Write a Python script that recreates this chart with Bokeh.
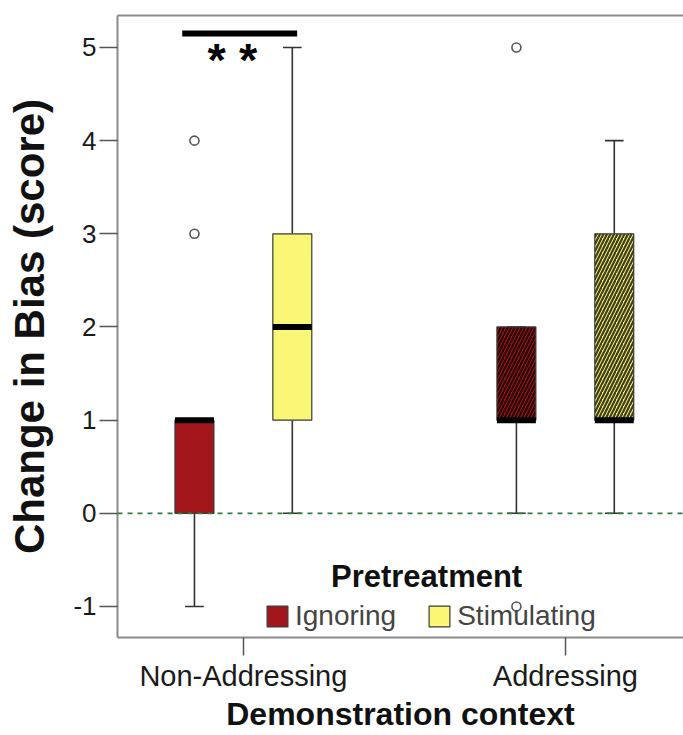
from bokeh.plotting import figure
from bokeh.models import (ColumnDataSource, Range1d, FixedTicker, LinearAxis, Span,
                          Legend, LegendItem, Label)
from bokeh.transform import dodge, factor_hatch
from bokeh.core.properties import value
from bokeh.embed import file_html
from bokeh.resources import INLINE

# ---------------- data ----------------
contexts = ["Non-Addressing", "Addressing"]
groups = ["Ignoring", "Stimulating"]

ign_low = [-1, 0]
ign_q1 = [0, 1]
ign_med = [1, 1]
ign_q3 = [1, 2]
ign_high = [1, 2]

stim_low = [0, 0]
stim_q1 = [1, 1]
stim_med = [2, 1]
stim_q3 = [3, 3]
stim_high = [5, 4]

ign_out_ctx = ["Non-Addressing", "Non-Addressing", "Addressing", "Addressing"]
ign_out_val = [4, 3, 5, -1]

y_ticks = [-1, 0, 1, 2, 3, 4, 5]
sig_label = "**"

# ---------------- styles ----------------
FONT = "Liberation Sans"
RED = "#A3161B"
YEL = "#FAF776"
OFF = 0.152
BOXW = 0.121
CAPW = 0.058

p = figure(width=683, height=735,
           x_range=Range1d(-0.391, 1.367), y_range=Range1d(-1.333, 5.343),
           output_backend="svg", toolbar_location=None,
           min_border_left=117, min_border_top=15, min_border_right=0, min_border_bottom=98,
           background_fill_color="white", border_fill_color="white")
p.outline_line_color = None
p.xgrid.visible = False
p.ygrid.visible = False

idx = list(range(len(contexts)))
src = ColumnDataSource(dict(
    x=idx, ctx=contexts,
    ign_low=ign_low, ign_q1=ign_q1, ign_med=ign_med, ign_q3=ign_q3, ign_high=ign_high,
    stim_low=stim_low, stim_q1=stim_q1, stim_med=stim_med, stim_q3=stim_q3, stim_high=stim_high,
))
out_src = ColumnDataSource(dict(x=[contexts.index(c) for c in ign_out_ctx], y=ign_out_val))

hatch = factor_hatch("ctx", [" ", "/"], contexts)
renderers = {}
for g, off, col in (("ign", -OFF, RED), ("stim", OFF, YEL)):
    xd = dodge("x", off, range=p.x_range)
    # whiskers
    p.segment(x0=xd, y0=f"{g}_q3", x1=xd, y1=f"{g}_high", source=src,
              line_color="#333333", line_width=1.6)
    p.segment(x0=xd, y0=f"{g}_low", x1=xd, y1=f"{g}_q1", source=src,
              line_color="#333333", line_width=1.6)
    # caps
    p.rect(x=xd, y=f"{g}_high", width=CAPW, height=1.6, height_units="screen", source=src,
           fill_color="#333333", line_color=None)
    p.rect(x=xd, y=f"{g}_low", width=CAPW, height=1.6, height_units="screen", source=src,
           fill_color="#333333", line_color=None)
    # box
    r = p.vbar(x=xd, width=BOXW, bottom=f"{g}_q1", top=f"{g}_q3", source=src,
               fill_color=col, line_color="#3a3a3a", line_width=1.2,
               hatch_pattern=hatch, hatch_color="black", hatch_alpha=0.75,
               hatch_scale=7, hatch_weight=2.2)
    renderers[g] = r
    # median
    p.rect(x=xd, y=f"{g}_med", width=BOXW, height=6, height_units="screen", source=src,
           fill_color="black", line_color=None)

p.scatter(x=dodge("x", -OFF, range=p.x_range), y="y", source=out_src, marker="circle",
          size=9, fill_color="white", line_color="#555555", line_width=1.6)

# zero reference line
p.add_layout(Span(location=0, dimension="width", line_color="#2F7D3B",
                  line_dash="5 5", line_width=1.8))

# significance bar
p.segment(x0=[-0.19], y0=[5.15], x1=[0.167], y1=[5.15], line_color="black", line_width=6)
p.text(x=[-0.034], y=[4.87], text=[" ".join(sig_label)], text_font=value(FONT),
       text_font_style="bold", text_font_size="47px", text_align="center",
       text_baseline="alphabetic", text_color="black")

# axes
p.xaxis.ticker = FixedTicker(ticks=idx)
p.xaxis.major_label_overrides = {i: c for i, c in enumerate(contexts)}
p.yaxis.ticker = FixedTicker(ticks=y_ticks)
p.yaxis.major_label_overrides = {t: str(t) for t in y_ticks}
for ax in (p.xaxis[0], p.yaxis[0]):
    ax.axis_line_color = "#8a8a8a"
    ax.axis_line_width = 2
    ax.major_tick_line_color = "#555555"
    ax.major_tick_line_width = 1.5
    ax.major_tick_in = 0
    ax.minor_tick_line_color = None
    ax.major_label_text_font = FONT
    ax.major_label_text_color = "#1a1a1a"
    ax.axis_label_text_font = FONT
    ax.axis_label_text_font_style = "bold"
    ax.axis_label_text_color = "#111111"

p.yaxis.major_tick_out = 18
p.yaxis.major_label_standoff = 3
p.yaxis.major_label_text_font_size = "26px"
p.yaxis.axis_label = "Change in Bias (score)"
p.yaxis.axis_label_text_font_size = "42px"
p.yaxis.axis_label_standoff = 17

p.xaxis.major_tick_out = 18
p.xaxis.major_label_standoff = 4
p.xaxis.major_label_text_font_size = "29px"
p.xaxis.axis_label = "Demonstration context"
p.xaxis.axis_label_text_font_size = "32px"
p.xaxis.axis_label_standoff = 1

top_ax = LinearAxis(ticker=FixedTicker(ticks=[]), axis_line_color="#8a8a8a", axis_line_width=2,
                    major_tick_line_color=None, minor_tick_line_color=None,
                    major_label_text_font_size="0px")
p.add_layout(top_ax, "above")

# legend
legend = Legend(items=[LegendItem(label=groups[0], renderers=[renderers["ign"]], index=0),
                       LegendItem(label=groups[1], renderers=[renderers["stim"]], index=0)],
                orientation="horizontal", location=(147, 5),
                glyph_width=26, glyph_height=26, label_text_font=FONT,
                label_text_font_size="28px", label_standoff=5, spacing=30,
                padding=0, margin=0, border_line_color=None, background_fill_alpha=0)
p.add_layout(legend)
p.add_layout(Label(x=0.569, y=-0.676, text="Pretreatment", text_font=FONT,
                   text_font_style="bold", text_font_size="31px", text_align="center",
                   text_baseline="middle", text_color="#111111"))

open("out.html", "w").write(file_html(p, INLINE))
